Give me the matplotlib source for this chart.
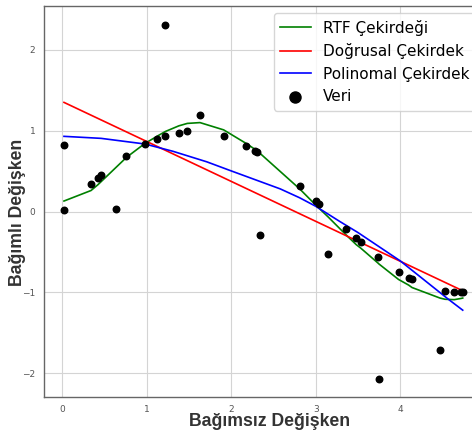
import matplotlib
matplotlib.use('Agg')
import matplotlib.pyplot as plt

# veri noktalari
veri_x = [0.02, 0.02, 0.34, 0.42, 0.46, 0.64, 0.76, 0.975, 1.12, 1.22, 1.22,
          1.38, 1.48, 1.63, 1.91, 2.18, 2.28, 2.31, 2.34, 2.81, 3.00, 3.04,
          3.15, 3.36, 3.48, 3.53, 3.74, 3.75, 3.98, 4.10, 4.14, 4.47, 4.53,
          4.64, 4.72, 4.74]
veri_y = [0.025, 0.82, 0.34, 0.41, 0.45, 0.03, 0.69, 0.83, 0.90, 0.94, 2.31,
          0.975, 0.99, 1.20, 0.94, 0.81, 0.75, 0.74, -0.285, 0.32, 0.13, 0.09,
          -0.52, -0.22, -0.33, -0.38, -0.56, -2.07, -0.75, -0.82, -0.84, -1.71, -0.98,
          -1.00, -1.00, -1.00]

# RTF cekirdegi tahmini
rtf_x = [0.02, 0.34, 0.42, 0.46, 0.64, 0.76, 0.975, 1.12, 1.22, 1.38, 1.48,
         1.63, 1.91, 2.18, 2.28, 2.31, 2.34, 2.81, 3.00, 3.04, 3.15, 3.36,
         3.48, 3.53, 3.74, 3.75, 3.98, 4.10, 4.14, 4.47, 4.53, 4.64, 4.72, 4.74]
rtf_y = [0.13, 0.26, 0.33, 0.37, 0.55, 0.67, 0.84, 0.93, 0.99, 1.06, 1.09,
         1.10, 1.01, 0.84, 0.77, 0.74, 0.72, 0.28, 0.08, 0.04, -0.07, -0.29,
         -0.41, -0.45, -0.64, -0.65, -0.84, -0.91, -0.94, -1.07, -1.085, -1.09, -1.075, -1.07]

# dogrusal cekirdek
dog_x = [0.02, 4.74]
dog_y = [1.35, -0.98]

# polinom cekirdek
pol_x = [0.02, 0.46, 0.98, 1.31, 1.71, 1.98, 2.58, 2.81, 3.00, 3.28, 3.50, 4.0, 4.57, 4.74]
pol_y = [0.93, 0.905, 0.835, 0.745, 0.615, 0.51, 0.28, 0.17, 0.065, -0.12, -0.26, -0.61, -1.085, -1.22]

fig = plt.figure(figsize=(4.72, 4.34), dpi=100)
ax = fig.add_axes([0.0926, 0.086, 0.9307, 0.9007])

ax.plot(rtf_x, rtf_y, color='green', lw=1.2, label='RTF Çekirdeği')
ax.plot(dog_x, dog_y, color='red', lw=1.2, label='Doğrusal Çekirdek')
ax.plot(pol_x, pol_y, color='blue', lw=1.2, label='Polinomal Çekirdek')
ax.scatter(veri_x, veri_y, color='black', s=22, zorder=3, label='Veri')

ax.set_xlim(-0.22, 4.98)
ax.set_ylim(-2.29, 2.545)
ax.set_xticks([0, 1, 2, 3, 4])
ax.set_yticks([-2, -1, 0, 1, 2])
ax.grid(True, color='#d4d4d4', lw=0.8)
ax.set_axisbelow(True)
ax.tick_params(length=0, pad=6, labelsize=6.5, labelcolor='#555555')
for s in ax.spines.values():
    s.set_color('#666666')
    s.set_linewidth(1.0)

ax.set_xlabel('Bağımsız Değişken', fontsize=12.7, fontweight='bold',
              family='Liberation Sans', color='#333333')
ax.set_ylabel('Bağımlı Değişken', fontsize=12.7, fontweight='bold',
              family='Liberation Sans', color='#333333')
ax.xaxis.set_label_coords(0.515, -0.042)
ax.yaxis.set_label_coords(-0.040, 0.472)

ax.legend(loc='upper right', fontsize=11, markerscale=1.7)

fig.savefig('out.png', dpi=100)
